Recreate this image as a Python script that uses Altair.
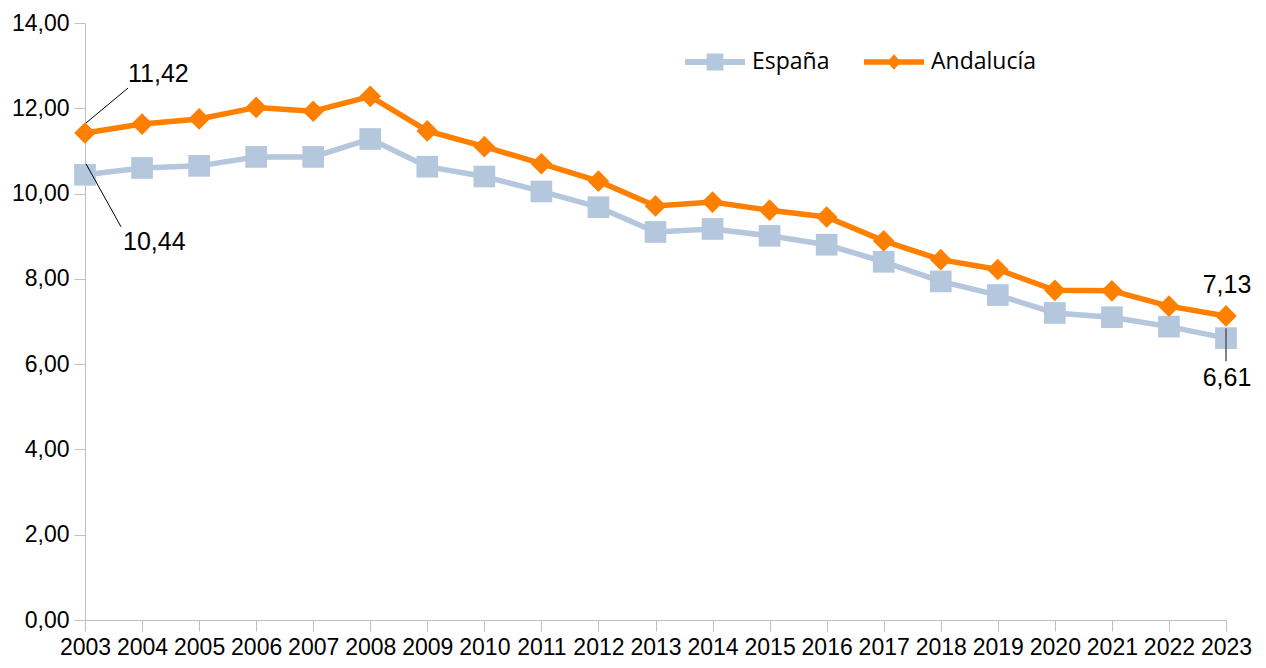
import altair as alt
import pandas as pd

years = [str(y) for y in range(2003, 2024)]
espana = [10.44, 10.60, 10.65, 10.86, 10.86, 11.28, 10.63, 10.40, 10.05, 9.68, 9.10,
          9.17, 9.01, 8.80, 8.40, 7.94, 7.62, 7.20, 7.10, 6.88, 6.61]
andalucia = [11.42, 11.63, 11.75, 12.02, 11.93, 12.28, 11.47, 11.10, 10.70, 10.29, 9.71,
             9.80, 9.61, 9.45, 8.89, 8.45, 8.22, 7.73, 7.72, 7.36, 7.13]
series = ["España", "Andalucía"]
colors = ["#B4C7DD", "#FF8000"]
shapes = ["square", "diamond"]
y_ticks = [0, 2, 4, 6, 8, 10, 12, 14]

rows = []
for s, vals in zip(series, [espana, andalucia]):
    for yr, v in zip(years, vals):
        rows.append({"year": yr, "serie": s, "value": v,
                     "label": f"{v:.2f}".replace(".", ",")})
df = pd.DataFrame(rows)

AX_FONT = "Liberation Sans"
LEG_FONT = "Open Sans"
LBL_FONT = "Liberation Sans"
GRAY = "#BFBFBF"

x_enc = alt.X("year:O", scale=alt.Scale(type="point", padding=0),
              axis=alt.Axis(title=None, labelAngle=0, labelFont=AX_FONT, labelFontSize=23,
                            labelColor="#000000", labelOverlap=False, labelPadding=5,
                            tickSize=11, tickColor=GRAY, domainColor=GRAY,
                            grid=False, labelFlush=False))
y_enc = alt.Y("value:Q", scale=alt.Scale(domain=[0, 14], nice=False),
              axis=alt.Axis(title=None, values=y_ticks, grid=False,
                            labelExpr="replace(format(datum.value, '.2f'), '.', ',')",
                            labelFont=AX_FONT, labelFontSize=23, labelColor="#000000",
                            labelPadding=5, tickSize=11, tickColor=GRAY,
                            domainColor=GRAY))

path_e = "M-1,-0.1H1V0.1H-1Z M-0.28,-0.28H0.28V0.28H-0.28Z"
path_a = "M-1,-0.09H1V0.09H-1Z M0,-0.26L0.23,0L0,0.26L-0.23,0Z"

legend = alt.Legend(
    title=None, orient="none", legendX=600, legendY=9, direction="horizontal",
    symbolSize=3600, labelFont=LEG_FONT, labelFontSize=23, labelColor="#000000",
    columnPadding=34, labelOffset=7, padding=0, symbolStrokeWidth=0, symbolOpacity=1,
    symbolType=alt.ExprRef(expr=f"datum.value === 'España' ? '{path_e}' : '{path_a}'"),
)

fill_scale = alt.Scale(domain=series, range=colors)
base = alt.Chart(df)


def line(s, c):
    return base.transform_filter(alt.datum.serie == s).mark_line(
        strokeWidth=5.5, color=c
    ).encode(x=x_enc, y=y_enc)


def pts(s, shape):
    return base.transform_filter(alt.datum.serie == s).mark_point(
        filled=True, size=470, opacity=1, strokeWidth=0, shape=shape
    ).encode(
        x=x_enc, y=y_enc,
        fill=alt.Fill("serie:N", scale=fill_scale, legend=legend),
    )


first, last = years[0], years[-1]


def sel(s, yr):
    return (alt.datum.serie == s) & (alt.datum.year == yr)


def leader(s, yr, xo, yo, x2o, y2o, color, width):
    return base.transform_filter(sel(s, yr)).mark_rule(
        color=color, strokeWidth=width, xOffset=xo, yOffset=yo, x2Offset=x2o, y2Offset=y2o
    ).encode(x=alt.X("year:O"), x2=alt.X2("year"), y=alt.Y("value:Q"), y2=alt.Y2("value"))


def dlabel(s, yr, dx, dy, align):
    return base.transform_filter(sel(s, yr)).mark_text(
        font=LBL_FONT, fontSize=25, color="#000000", align=align, baseline="middle",
        dx=dx, dy=dy
    ).encode(x=alt.X("year:O"), y=alt.Y("value:Q"), text="label:N")


layers = [
    line(series[0], colors[0]), line(series[1], colors[1]),
    pts(series[0], shapes[0]), pts(series[1], shapes[1]),
    leader("Andalucía", first, 1, -10, 43, -45, "#000000", 1),
    leader("España", first, 1, -11, 36, 52, "#000000", 1),
    leader("España", last, 0, -10, 0, 23, "#595959", 1.5),
    dlabel("Andalucía", first, 43, -59, "left"),
    dlabel("España", first, 38, 67, "left"),
    dlabel("Andalucía", last, 1, -31, "center"),
    dlabel("España", last, 1, 40, "center"),
]

chart = alt.layer(*layers).properties(
    width=1141, height=597,
    padding={"left": 77, "top": 15, "right": 30, "bottom": 40},
    autosize=alt.AutoSizeParams(type="none"),
    background="white",
).configure_view(stroke=None)

chart.save("out.html", embed_options={"renderer": "svg", "actions": False})
